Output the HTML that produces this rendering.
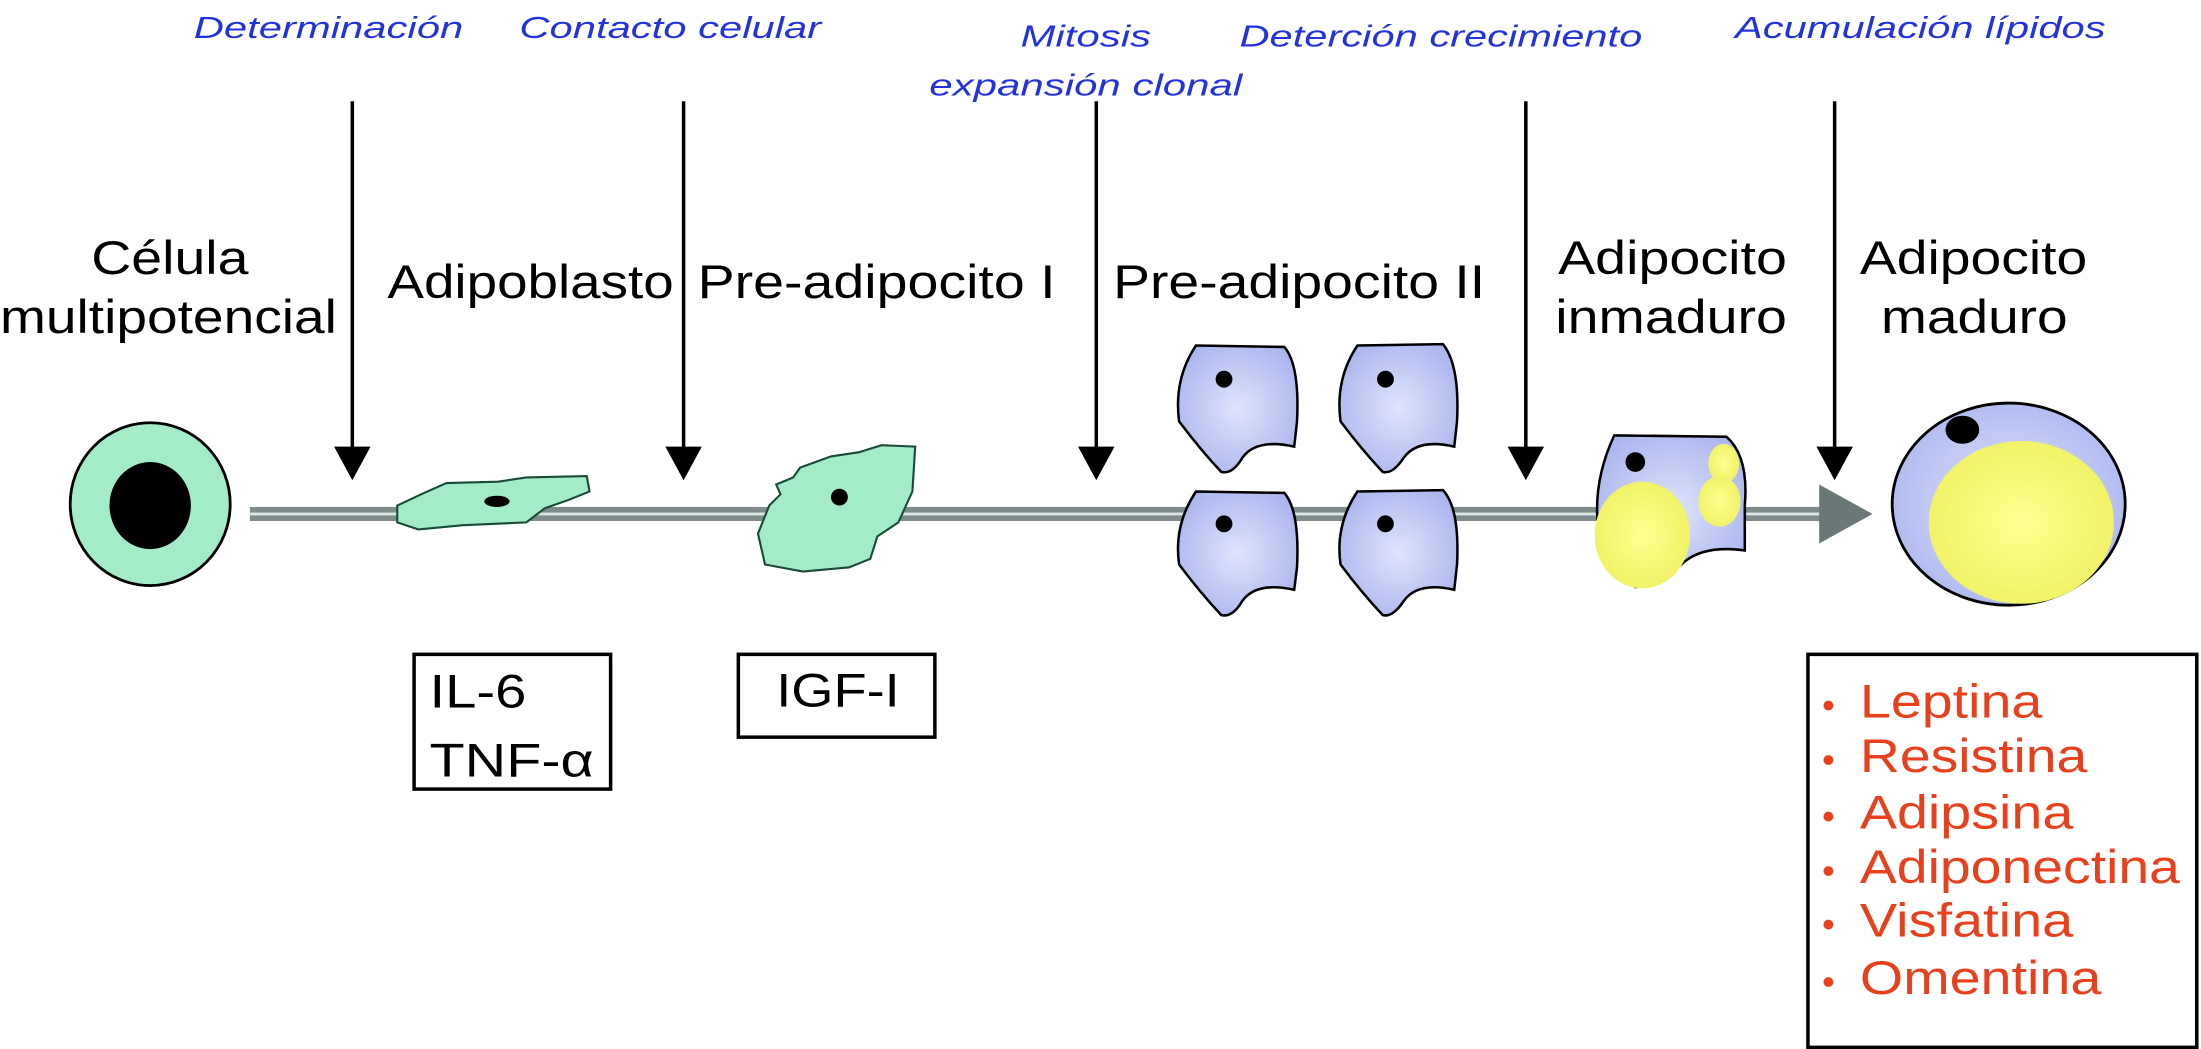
<!DOCTYPE html>
<html><head><meta charset="utf-8"><style>html,body{margin:0;padding:0;background:#fff}svg{display:block}</style></head>
<body>
<svg width="2201" height="1049" viewBox="0 0 1568 747" xmlns="http://www.w3.org/2000/svg">
<defs>
<radialGradient id="bl" cx="50%" cy="50%" r="60%"><stop offset="0" stop-color="#dfe4fb"/><stop offset="1" stop-color="#aab4ee"/></radialGradient>
<radialGradient id="yl" cx="50%" cy="50%" r="60%"><stop offset="0" stop-color="#ffff90"/><stop offset="1" stop-color="#eef060"/></radialGradient>
<marker id="ah" markerWidth="26" markerHeight="24" refX="13" refY="24" orient="auto" markerUnits="userSpaceOnUse"></marker>
</defs>
<g font-family="Liberation Sans, sans-serif" font-style="italic" font-size="22" fill="#2233dd" lengthAdjust="spacingAndGlyphs">
<text x="138" y="27" textLength="192" lengthAdjust="spacingAndGlyphs">Determinación</text>
<text x="370" y="27" textLength="215" lengthAdjust="spacingAndGlyphs">Contacto celular</text>
<text x="727" y="33" textLength="93" lengthAdjust="spacingAndGlyphs">Mitosis</text>
<text x="662" y="68" textLength="223" lengthAdjust="spacingAndGlyphs">expansión clonal</text>
<text x="883" y="33" textLength="287" lengthAdjust="spacingAndGlyphs">Deterción crecimiento</text>
<text x="1236" y="27" textLength="264" lengthAdjust="spacingAndGlyphs">Acumulación lípidos</text>
</g>
<g stroke="#000" stroke-width="2.5">
<line x1="251" y1="72" x2="251" y2="322"/><line x1="487" y1="72" x2="487" y2="322"/><line x1="781" y1="72" x2="781" y2="322"/><line x1="1087" y1="72" x2="1087" y2="322"/><line x1="1307" y1="72" x2="1307" y2="322"/>
</g>
<g fill="#000">
<polygon points="238,318 264,318 251,342"/><polygon points="474,318 500,318 487,342"/><polygon points="768,318 794,318 781,342"/><polygon points="1074,318 1100,318 1087,342"/><polygon points="1294,318 1320,318 1307,342"/>
</g>
<g font-family="Liberation Sans, sans-serif" font-size="34" fill="#000">
<text x="65" y="195" textLength="112" lengthAdjust="spacingAndGlyphs">Célula</text>
<text x="0" y="237" textLength="240" lengthAdjust="spacingAndGlyphs">multipotencial</text>
<text x="276" y="212" textLength="204" lengthAdjust="spacingAndGlyphs">Adipoblasto</text>
<text x="497" y="212" textLength="255" lengthAdjust="spacingAndGlyphs">Pre-adipocito I</text>
<text x="793" y="212" textLength="265" lengthAdjust="spacingAndGlyphs">Pre-adipocito II</text>
<text x="1110" y="195" textLength="163" lengthAdjust="spacingAndGlyphs">Adipocito</text>
<text x="1108" y="237" textLength="165" lengthAdjust="spacingAndGlyphs">inmaduro</text>
<text x="1325" y="195" textLength="162" lengthAdjust="spacingAndGlyphs">Adipocito</text>
<text x="1340" y="237" textLength="133" lengthAdjust="spacingAndGlyphs">maduro</text>
</g>
<rect x="178" y="361" width="1120" height="10" fill="#7f8c8c"/>
<rect x="178" y="365" width="1120" height="2" fill="#dfe6e6"/>
<polygon points="1296,345 1334,366 1296,387" fill="#6b7878"/>
<ellipse cx="107" cy="359" rx="57" ry="58" fill="#a4ecc8" stroke="#000" stroke-width="2"/>
<ellipse cx="107" cy="360" rx="29" ry="31" fill="#000"/>
<path d="M283,360 L300,352 L318,344 L355,343 L375,340 L418,339 L420,350 L405,356 L388,362 L375,372 L330,374 L298,377 L283,372 Z" fill="#a4ecc8" stroke="#1a4a3a" stroke-width="1.5"/>
<ellipse cx="354" cy="357" rx="9" ry="4" fill="#000"/>
<path d="M570,333 L592,325 L612,322 L628,317 L652,318 L650,350 L640,372 L625,382 L620,398 L605,404 L572,407 L545,402 L540,380 L548,360 L556,352 L553,345 L565,340 Z" fill="#a4ecc8" stroke="#1a4a3a" stroke-width="1.5"/>
<circle cx="598" cy="354" r="6" fill="#000"/>
<g fill="url(#bl)" stroke="#000" stroke-width="1.8">
<path d="M852,246 L915,247 Q926,260 924,300 L922,318 Q895,312 885,326 Q878,338 870,336 Q855,320 840,300 Q836,270 852,246 Z"/>
<path d="M967,246 L1028,245 Q1040,260 1038,300 L1036,318 Q1010,312 1000,326 Q992,338 985,336 Q970,320 955,300 Q951,270 967,246 Z"/>
<path d="M852,350 L915,351 Q926,364 924,404 L922,420 Q895,414 885,428 Q878,440 870,438 Q855,422 840,402 Q836,374 852,350 Z"/>
<path d="M967,350 L1028,349 Q1040,362 1038,402 L1036,420 Q1010,414 1000,428 Q992,440 985,438 Q970,422 955,402 Q951,374 967,350 Z"/>
</g>
<g fill="#000"><circle cx="872" cy="270" r="6"/><circle cx="987" cy="270" r="6"/><circle cx="872" cy="373" r="6"/><circle cx="987" cy="373" r="6"/></g>
<path d="M1150,310 L1230,311 Q1246,325 1243,360 L1243,392 Q1215,388 1200,400 Q1180,418 1165,418 Q1145,400 1138,370 Q1136,340 1150,310 Z" fill="url(#bl)" stroke="#000" stroke-width="1.8"/>
<ellipse cx="1170" cy="381" rx="34" ry="38" fill="url(#yl)"/>
<ellipse cx="1228" cy="330" rx="11" ry="14" fill="url(#yl)"/>
<ellipse cx="1225" cy="357" rx="15" ry="18" fill="url(#yl)"/>
<circle cx="1165" cy="329" r="7" fill="#000"/>
<ellipse cx="1431" cy="359" rx="83" ry="72" fill="url(#bl)" stroke="#000" stroke-width="2"/>
<ellipse cx="1440" cy="372" rx="66" ry="58" fill="url(#yl)"/>
<ellipse cx="1398" cy="306" rx="12" ry="10" fill="#000"/>
<g fill="none" stroke="#000" stroke-width="2.5">
<rect x="295" y="466" width="140" height="96"/>
<rect x="526" y="466" width="140" height="59"/>
<rect x="1288" y="466" width="277" height="280"/>
</g>
<g font-family="Liberation Sans, sans-serif" font-size="34" fill="#000">
<text x="306" y="504" textLength="69" lengthAdjust="spacingAndGlyphs">IL-6</text>
<text x="306" y="553" textLength="117" lengthAdjust="spacingAndGlyphs">TNF-α</text>
<text x="553" y="503" textLength="88" lengthAdjust="spacingAndGlyphs">IGF-I</text>
</g>
<g font-family="Liberation Sans, sans-serif" font-size="34" fill="#e8401c">
<text x="1298" y="511" font-size="26">•</text><text x="1325" y="511" textLength="130" lengthAdjust="spacingAndGlyphs">Leptina</text>
<text x="1298" y="550" font-size="26">•</text><text x="1325" y="550" textLength="162" lengthAdjust="spacingAndGlyphs">Resistina</text>
<text x="1298" y="590" font-size="26">•</text><text x="1325" y="590" textLength="152" lengthAdjust="spacingAndGlyphs">Adipsina</text>
<text x="1298" y="629" font-size="26">•</text><text x="1325" y="629" textLength="228" lengthAdjust="spacingAndGlyphs">Adiponectina</text>
<text x="1298" y="667" font-size="26">•</text><text x="1325" y="667" textLength="152" lengthAdjust="spacingAndGlyphs">Visfatina</text>
<text x="1298" y="708" font-size="26">•</text><text x="1325" y="708" textLength="172" lengthAdjust="spacingAndGlyphs">Omentina</text>
</g>
</svg>
</body></html>
